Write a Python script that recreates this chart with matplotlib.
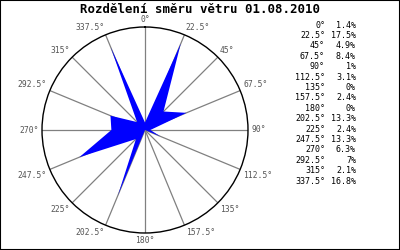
import numpy as np
import matplotlib
matplotlib.use("Agg")
import matplotlib.pyplot as plt

# wind direction share (percent) for each 22.5 deg sector
directions = [0, 22.5, 45, 67.5, 90, 112.5, 135, 157.5,
              180, 202.5, 225, 247.5, 270, 292.5, 315, 337.5]
shares = [1.4, 17.5, 4.9, 8.4, 1, 3.1, 0, 2.4,
          0, 13.3, 2.4, 13.3, 6.3, 7, 2.1, 16.8]
title = "Rozdělení směru větru 01.08.2010"

plt.rcParams['font.family'] = ['DejaVu Sans Mono']

fig = plt.figure(figsize=(4, 2.5), dpi=100)
fig.patch.set_facecolor('white')
fig.patches.append(plt.Rectangle((0, 0), 1, 1, transform=fig.transFigure,
                                 fill=False, edgecolor='black', linewidth=1.5))

ax = fig.add_axes([0.105, 0.068, 0.515, 0.824], projection='polar')
ax.set_theta_zero_location('N')
ax.set_theta_direction(-1)

rmax = 19.3
th = np.deg2rad(directions + [directions[0]])
r = shares + [shares[0]]
ax.fill(th, r, color='#0000ff', linewidth=0, zorder=3)
ax.set_ylim(0, rmax)
ax.set_yticks([])
ax.set_thetagrids(directions, labels=[''] * len(directions))
ax.xaxis.grid(True, color='#808080', linewidth=0.9)
ax.spines['polar'].set_color('black')
ax.spines['polar'].set_linewidth(1.0)

# direction labels around the circle
for a in directions:
    if a in (0, 180):
        ha = 'center'
    elif a < 180:
        ha = 'left'
    else:
        ha = 'right'
    if a in (90, 270):
        va = 'center'
    elif 90 < a < 270:
        va = 'top'
    else:
        va = 'bottom'
    ax.text(np.deg2rad(a), rmax * 1.03, f"{a:g}°", ha=ha, va=va,
            fontsize=5.8, color='#555555', clip_on=False)

fig.text(0.5, 0.962, title, ha='center', va='center',
         fontsize=8.9, fontweight='bold')

# legend table on the right
for i, (a, s) in enumerate(zip(directions, shares)):
    y = 1 - (25 + i * 10.4) / 250
    fig.text(325 / 400, y, f"{a:g}°", ha='right', va='center', fontsize=6)
    fig.text(356 / 400, y, f"{s:g}%", ha='right', va='center', fontsize=6)

fig.savefig('out.png', dpi=100)
